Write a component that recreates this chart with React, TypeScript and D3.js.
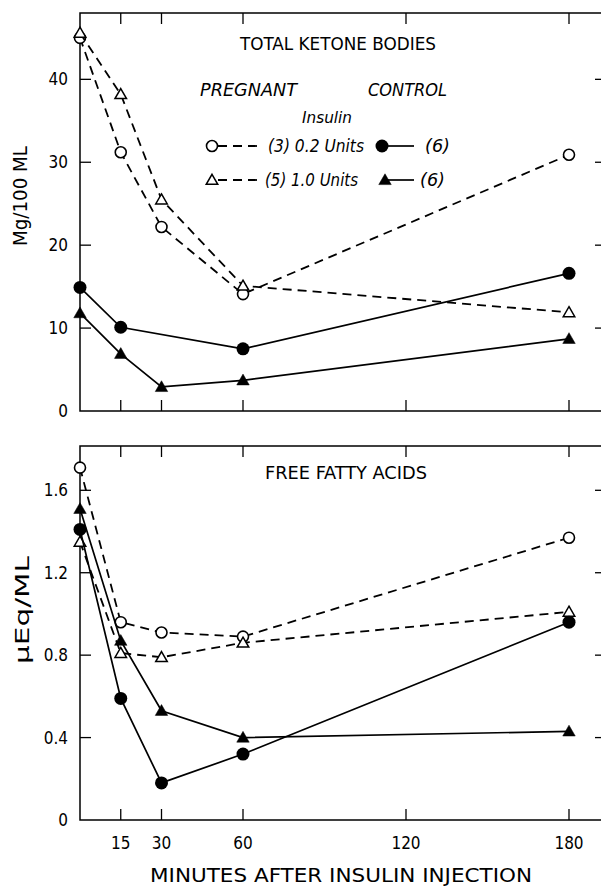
import React from "react";
import * as d3 from "d3";

// ---- data ----
const timesAll = [0, 15, 30, 60, 180];
const timesCtrl02Ketone = [0, 15, 60, 180];

const ketonePreg02 = [45.0, 31.2, 22.2, 14.1, 30.9];
const ketonePreg10 = [45.6, 38.2, 25.5, 15.1, 11.9];
const ketoneCtrl02 = [14.9, 10.1, 7.5, 16.6];
const ketoneCtrl10 = [11.8, 6.9, 2.9, 3.7, 8.7];

const ffaPreg02 = [1.71, 0.96, 0.91, 0.89, 1.37];
const ffaPreg10 = [1.35, 0.81, 0.79, 0.86, 1.01];
const ffaCtrl02 = [1.41, 0.59, 0.18, 0.32, 0.96];
const ffaCtrl10 = [1.51, 0.87, 0.53, 0.4, 0.43];

const xTicks = [15, 30, 60, 120, 180];
const ketoneTicks = [10, 20, 30, 40];
const ffaTicks = [0.4, 0.8, 1.2, 1.6];

const FONT = "'DejaVu Sans Condensed', 'Liberation Sans Narrow', 'DejaVu Sans', sans-serif";

type Series = { t: number[]; v: number[]; dashed: boolean; marker: "oc" | "fc" | "ot" | "ft" };

const Marker = ({ x, y, kind }: { x: number; y: number; kind: string }) => {
  if (kind === "oc") return <circle cx={x} cy={y} r={5.5} fill="white" stroke="black" strokeWidth={1.6} />;
  if (kind === "fc") return <circle cx={x} cy={y} r={6.5} fill="black" />;
  const s = kind === "ot" ? 6 : 6.5;
  const p = d3.symbol().type(d3.symbolTriangle).size(s * s * 1.6)();
  return (
    <path
      d={p || ""}
      transform={`translate(${x},${y + 1})`}
      fill={kind === "ft" ? "black" : "white"}
      stroke="black"
      strokeWidth={kind === "ft" ? 0.5 : 1.5}
    />
  );
};

const Panel = ({
  top, bottom, domainMax, ticks, fmt, series, showXLabels,
}: {
  top: number; bottom: number; domainMax: number; ticks: number[]; fmt: (v: number) => string;
  series: Series[]; showXLabels: boolean;
}) => {
  const left = 80;
  const right = 602;
  const x = d3.scaleLinear().domain([0, 180]).range([80, 569]);
  const y = d3.scaleLinear().domain([0, domainMax]).range([bottom, top]);
  const line = d3.line<[number, number]>().x((d) => x(d[0])).y((d) => y(d[1]));
  return (
    <g>
      <path d={`M${right},${top}H${left}V${bottom}H${right}`} fill="none" stroke="black" strokeWidth={1.5} />
      {xTicks.map((t) => (
        <g key={t}>
          <line x1={x(t)} x2={x(t)} y1={top} y2={top + 11} stroke="black" strokeWidth={1.3} />
          <line x1={x(t)} x2={x(t)} y1={bottom} y2={bottom - 11} stroke="black" strokeWidth={1.3} />
        </g>
      ))}
      {ticks.map((v) => (
        <g key={v}>
          <line x1={left} x2={left + 11} y1={y(v)} y2={y(v)} stroke="black" strokeWidth={1.3} />
          <line x1={595} x2={601} y1={y(v)} y2={y(v)} stroke="black" strokeWidth={1.3} />
          <text x={68} y={y(v)} dy="0.36em" textAnchor="end" fontSize={17} fontFamily={FONT}>{fmt(v)}</text>
        </g>
      ))}
      <text x={68} y={y(0)} dy="0.36em" textAnchor="end" fontSize={17} fontFamily={FONT}>0</text>
      {showXLabels &&
        xTicks.map((t) => (
          <text key={t} x={x(t)} y={bottom + 23} dy="0.36em" textAnchor="middle" fontSize={17} fontFamily={FONT}>{t}</text>
        ))}
      {series.map((s, i) => (
        <g key={i}>
          <path
            d={line(s.t.map((t, j) => [t, s.v[j]] as [number, number])) || ""}
            fill="none"
            stroke="black"
            strokeWidth={s.dashed ? 1.8 : 1.7}
            strokeDasharray={s.dashed ? "9,6" : undefined}
          />
          {s.t.map((t, j) => (
            <Marker key={j} x={x(t)} y={y(s.v[j])} kind={s.marker} />
          ))}
        </g>
      ))}
    </g>
  );
};

export default function App() {
  const ketoneSeries: Series[] = [
    { t: timesAll, v: ketonePreg02, dashed: true, marker: "oc" },
    { t: timesAll, v: ketonePreg10, dashed: true, marker: "ot" },
    { t: timesCtrl02Ketone, v: ketoneCtrl02, dashed: false, marker: "fc" },
    { t: timesAll, v: ketoneCtrl10, dashed: false, marker: "ft" },
  ];
  const ffaSeries: Series[] = [
    { t: timesAll, v: ffaPreg02, dashed: true, marker: "oc" },
    { t: timesAll, v: ffaPreg10, dashed: true, marker: "ot" },
    { t: timesAll, v: ffaCtrl02, dashed: false, marker: "fc" },
    { t: timesAll, v: ffaCtrl10, dashed: false, marker: "ft" },
  ];
  return (
    <svg width={601} height={887} style={{ position: "absolute", left: 0, top: 0, background: "white" }}>
      <rect width={601} height={887} fill="white" />
      <Panel top={13} bottom={411} domainMax={48} ticks={ketoneTicks} fmt={(v) => String(v)} series={ketoneSeries} showXLabels={false} />
      <Panel top={446} bottom={820} domainMax={1.815} ticks={ffaTicks} fmt={(v) => v.toFixed(1)} series={ffaSeries} showXLabels={true} />

      <text x={338} y={44} dy="0.36em" textAnchor="middle" fontSize={17} fontFamily={FONT} textLength={196} lengthAdjust="spacingAndGlyphs">TOTAL KETONE BODIES</text>
      <text x={346} y={473} dy="0.36em" textAnchor="middle" fontSize={17} fontFamily={FONT} textLength={162} lengthAdjust="spacingAndGlyphs">FREE FATTY ACIDS</text>

      <g fontFamily={FONT} fontStyle="italic" fontSize={18}>
        <text x={200} y={90} dy="0.36em" textLength={97} lengthAdjust="spacingAndGlyphs">PREGNANT</text>
        <text x={368} y={90} dy="0.36em" textLength={79} lengthAdjust="spacingAndGlyphs">CONTROL</text>
        <text x={302} y={117} dy="0.36em" fontSize={16} textLength={50} lengthAdjust="spacingAndGlyphs">Insulin</text>
        <line x1={218} x2={258} y1={146} y2={146} stroke="black" strokeWidth={1.8} strokeDasharray="9,6" />
        <Marker x={212} y={146} kind="oc" />
        <text x={268} y={146} dy="0.36em" textLength={96} lengthAdjust="spacingAndGlyphs">(3) 0.2 Units</text>
        <line x1={382} x2={414} y1={146} y2={146} stroke="black" strokeWidth={1.7} />
        <Marker x={382} y={146} kind="fc" />
        <text x={425} y={146} dy="0.36em" textLength={25} lengthAdjust="spacingAndGlyphs">(6)</text>
        <line x1={218} x2={258} y1={180} y2={180} stroke="black" strokeWidth={1.8} strokeDasharray="9,6" />
        <Marker x={212} y={180} kind="ot" />
        <text x={265} y={180} dy="0.36em" textLength={93} lengthAdjust="spacingAndGlyphs">(5) 1.0 Units</text>
        <line x1={385} x2={414} y1={180} y2={180} stroke="black" strokeWidth={1.7} />
        <Marker x={385} y={180} kind="ft" />
        <text x={420} y={180} dy="0.36em" textLength={25} lengthAdjust="spacingAndGlyphs">(6)</text>
      </g>

      <text transform="translate(20,196) rotate(-90)" dy="0.36em" textAnchor="middle" fontSize={19} fontFamily={FONT} textLength={100} lengthAdjust="spacingAndGlyphs">Mg/100 ML</text>
      <text transform="translate(22,610) rotate(-90)" dy="0.36em" textAnchor="middle" fontSize={19} fontFamily={FONT} textLength={108} lengthAdjust="spacingAndGlyphs">μEq/ML</text>
      <text x={341} y={875} dy="0.36em" textAnchor="middle" fontSize={19} fontFamily={FONT} textLength={382} lengthAdjust="spacingAndGlyphs">MINUTES  AFTER  INSULIN  INJECTION</text>
    </svg>
  );
}
